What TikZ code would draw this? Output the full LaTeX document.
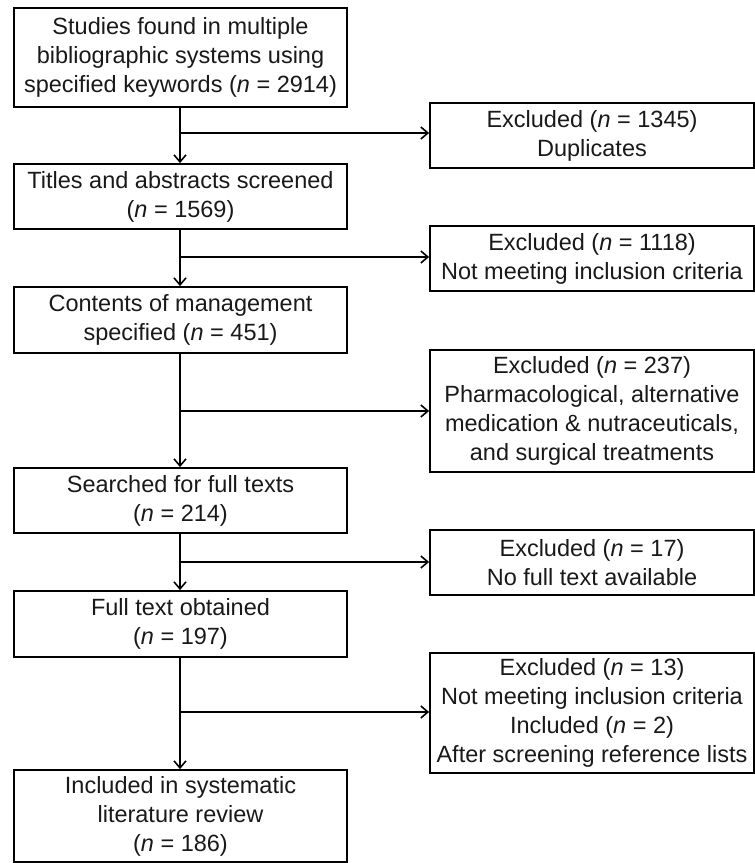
\documentclass[tikz,border=0pt]{standalone}
\usepackage{fontspec}
\setmainfont{Liberation Sans}
\usetikzlibrary{arrows.meta}
\begin{document}
\begin{tikzpicture}[x=1pt,y=-1pt,
  box/.style={draw=black, line width=1.8pt, inner sep=0pt, align=center,
    font=\fontsize{23.5}{29}\selectfont, text=black!90},
  lbox/.style={box, minimum width=333pt},
  rbox/.style={box, minimum width=324pt},
  conn/.style={line width=1.8pt, -{Straight Barb[length=7pt,width=12pt,line width=1.6pt]}},
  plain/.style={line width=1.8pt}]
\useasboundingbox (0,0) rectangle (755,863);
% left column
\node[lbox, minimum height=99pt] (a) at (180.5,57.5) {Studies found in multiple\\bibliographic systems using\\specified keywords (\textit{n} = 2914)};
\node[lbox, minimum height=65pt] (b) at (180.5,196.5) {Titles and abstracts screened\\(\textit{n} = 1569)};
\node[lbox, minimum height=66pt] (c) at (180.5,320) {Contents of management\\specified (\textit{n} = 451)};
\node[lbox, minimum height=65pt] (d) at (180.5,500.5) {Searched for full texts\\(\textit{n} = 214)};
\node[lbox, minimum height=66pt] (e) at (180.5,624) {Full text obtained\\(\textit{n} = 197)};
\node[lbox, minimum height=92pt] (f) at (180.5,816) {Included in systematic\\literature review\\(\textit{n} = 186)};
% right column
\node[rbox, minimum height=65pt] (r1) at (592,135.5) {Excluded (\textit{n} = 1345)\\Duplicates};
\node[rbox, minimum height=65pt] (r2) at (592,258.5) {Excluded (\textit{n} = 1118)\\Not meeting inclusion criteria};
\node[rbox, minimum height=122pt] (r3) at (592,411) {Excluded (\textit{n} = 237)\\Pharmacological, alternative\\medication \& nutraceuticals,\\and surgical treatments};
\node[rbox, minimum height=65pt] (r4) at (592,562.5) {Excluded (\textit{n} = 17)\\No full text available};
\node[rbox, minimum height=120pt] (r5) at (592,713) {Excluded (\textit{n} = 13)\\Not meeting inclusion criteria\\Included (\textit{n} = 2)\\After screening reference lists};
% branch points
\coordinate (p1) at (180,133);
\coordinate (p2) at (180,257);
\coordinate (p3) at (180,411);
\coordinate (p4) at (180,562);
\coordinate (p5) at (180,712);
% vertical connectors
\draw[conn] (a.south -| p1) -- (b.north -| p1);
\draw[conn] (b.south -| p1) -- (c.north -| p1);
\draw[conn] (c.south -| p1) -- (d.north -| p1);
\draw[conn] (d.south -| p1) -- (e.north -| p1);
\draw[conn] (e.south -| p1) -- (f.north -| p1);
% horizontal connectors
\draw[conn] (p1) -- (p1 -| r1.west);
\draw[conn] (p2) -- (p2 -| r2.west);
\draw[conn] (p3) -- (p3 -| r3.west);
\draw[conn] (p4) -- (p4 -| r4.west);
\draw[conn] (p5) -- (p5 -| r5.west);
\end{tikzpicture}
\end{document}
